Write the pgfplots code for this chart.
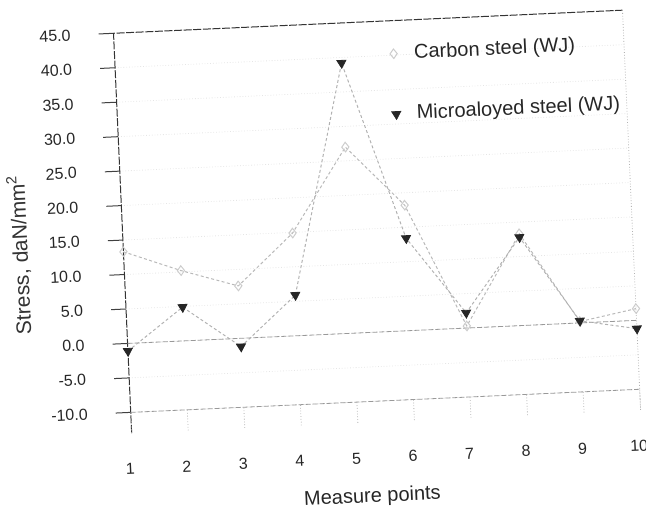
\documentclass[border=0pt]{standalone}
\usepackage{pgfplots}
\pgfplotsset{compat=1.18}
\usepackage{fontspec}
\setmainfont{Liberation Sans}
\pgfplotstableread{
x carbon micro
1 13.3 -1.1
2 10.2 4.9
3 7.6 -1.2
4 14.9 5.9
5 27.0 39.2
6 18.2 13.4
7 0.3 2.2
8 13.3 12.8
9 0.2 0.3
10 1.7 -1.2
}\datatable
\begin{document}
\begin{tikzpicture}
\path[use as bounding box] (0,0) rectangle (323pt,260pt);
\begin{scope}[transform canvas={rotate around={2.6:(161.5pt,130pt)}}]
\begin{axis}[
  at={(62pt,47.9pt)}, anchor=south west,
  scale only axis, width=254.75pt, height=200.1pt,
  xmin=1, xmax=10, ymin=-13, ymax=45,
  clip=false,
  axis line style={draw=none},
  xtick={1,...,10}, ytick={-10,-5,...,45},
  tick pos=left, tick align=outside,
  major tick length=7.5pt,
  xtick style={draw=none},
  ytick style={black!75, line width=0.5pt},
  ymajorgrids, grid style={gray!20, densely dotted},
  /pgf/number format/assume math mode=true,
  yticklabel style={/pgf/number format/.cd, fixed, fixed zerofill, precision=1, /tikz/.cd, xshift=-10.5pt},
  ticklabel style={font=\fontsize{8}{9.6}\selectfont, text=black!85},
  xticklabel style={yshift=-4pt, xshift=-1.5pt},
  xlabel={Measure points},
  xlabel style={at={(axis description cs:0.4665,-0.187)}, anchor=center, font=\fontsize{10}{12}\selectfont, text=black!85},
  ylabel={Stress, daN/mm\textsuperscript{2}},
  ylabel style={at={(axis description cs:-0.203,0.458)}, anchor=center, font=\fontsize{10.5}{12}\selectfont, text=black!80},
  legend style={at={(axis description cs:0.526,0.96)}, anchor=north west, draw=none, fill=none,
    font=\fontsize{10}{12}\selectfont, row sep=17.5pt, column sep=6pt, text=black!85},
  legend cell align=left,
]
% frame and reference lines
\draw[black!80, line width=0.5pt, dash pattern=on 4pt off 0.8pt] (rel axis cs:0,0) -- (rel axis cs:0,1) -- (rel axis cs:1,1);
\draw[gray!60, densely dotted] (rel axis cs:1,1) -- (rel axis cs:1,0);
\draw[gray!80, dash pattern=on 2.5pt off 1pt] (axis cs:1,0) -- (axis cs:10,0);
\draw[gray!80, dash pattern=on 2.5pt off 1pt] (axis cs:1,-10) -- (axis cs:10,-10);
\pgfplotsinvokeforeach{1,...,10}{\draw[gray!60, densely dotted] (axis cs:#1,-13) -- (axis cs:#1,-10);}
% lines
\addplot[forget plot, gray!55, line width=0.5pt, dash pattern=on 1.5pt off 1.2pt] table[x=x, y=carbon] {\datatable};
\addplot[forget plot, gray!60, line width=0.5pt, dash pattern=on 1.5pt off 1.2pt] table[x=x, y=micro] {\datatable};
% marks
\addplot[only marks, mark=diamond, mark size=2.4pt, gray!40, mark options={line width=0.5pt}] table[x=x, y=carbon] {\datatable};
\addlegendentry{Carbon steel (WJ)}
\addplot[only marks, mark=triangle*, mark size=2.6pt, black!85, mark options={rotate=180, fill=black!85}] table[x=x, y=micro] {\datatable};
\addlegendentry{Microaloyed steel (WJ)}
\end{axis}
\end{scope}
\end{tikzpicture}
\end{document}
